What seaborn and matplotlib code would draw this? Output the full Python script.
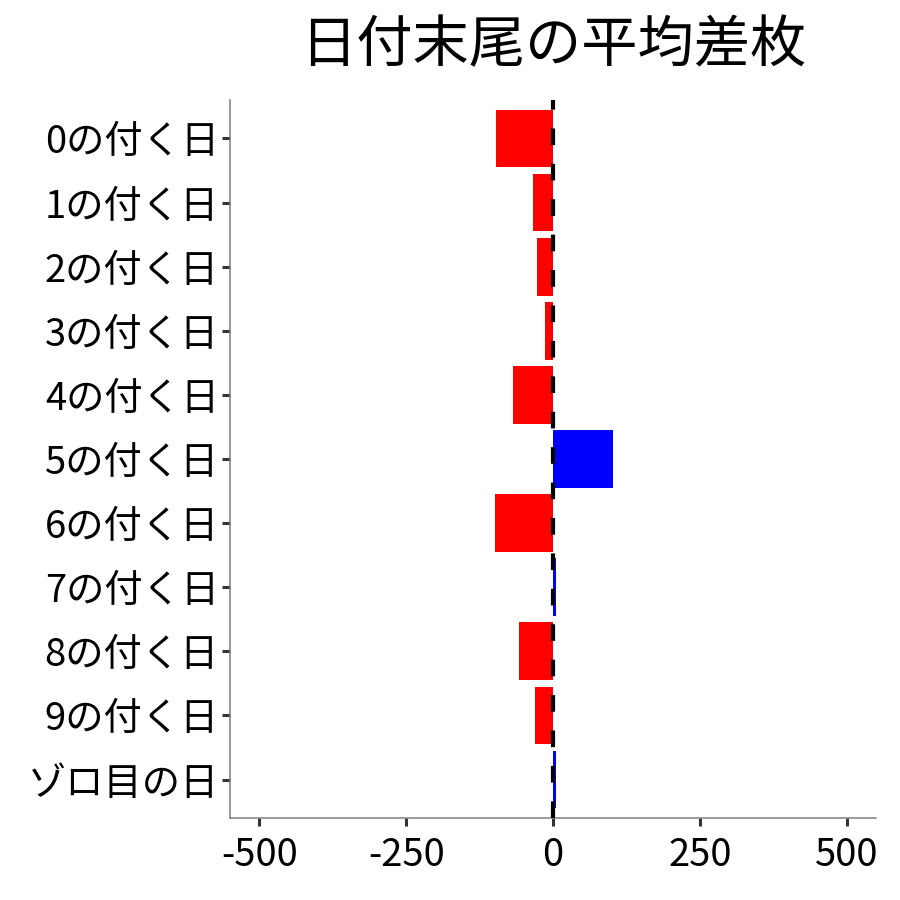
import matplotlib
matplotlib.use("Agg")
import matplotlib.pyplot as plt
import seaborn as sns
import pandas as pd

categories = ["0の付く日", "1の付く日", "2の付く日", "3の付く日", "4の付く日",
              "5の付く日", "6の付く日", "7の付く日", "8の付く日", "9の付く日", "ゾロ目の日"]
values = [-97, -34, -27, -14, -68, 103, -99, 5, -58, -31, 5]
title = "日付末尾の平均差枚"
xticks = [-500, -250, 0, 250, 500]

sns.set_theme(style="white")
plt.rcParams['font.family'] = ['Noto Sans CJK JP', 'DejaVu Sans']

df = pd.DataFrame({"cat": categories, "val": values})
df["sign"] = ["neg" if v < 0 else "pos" for v in values]

fig = plt.figure(figsize=(9, 9), dpi=100)
ax = fig.add_axes([230/900, 1 - 818/900, (876 - 230)/900, (818 - 100)/900])

sns.barplot(data=df, y="cat", x="val", hue="sign", order=categories,
            palette={"neg": "#ff0000", "pos": "#0000ff"}, orient="h",
            width=0.9, dodge=False, legend=False, saturation=1, ax=ax)
for p in ax.patches:
    p.set_edgecolor("none")

ax.axvline(0, color="black", linewidth=3, linestyle=(0, (4, 4.5)), zorder=5)

ax.set_xlim(-550, 550)
ax.set_ylim(len(categories) - 0.4, -0.6)
ax.set_xticks(xticks)
ax.set_xticklabels([str(t) for t in xticks])
ax.set_xlabel("")
ax.set_ylabel("")

for s in ["top", "right"]:
    ax.spines[s].set_visible(False)
for s in ["left", "bottom"]:
    ax.spines[s].set_color("#7f7f7f")
    ax.spines[s].set_linewidth(1.1)

ax.tick_params(axis="both", which="major", direction="out", length=6, width=2.2,
               color="#333333", labelsize=27.5, labelcolor="black", pad=2, left=True, bottom=True)
ax.tick_params(axis="x", pad=7)

fig.text((230 + 876)/2/900, 1 - 46/900, title, ha="center", va="center", fontsize=40.5, color="black")

fig.savefig("out.png", dpi=100)
